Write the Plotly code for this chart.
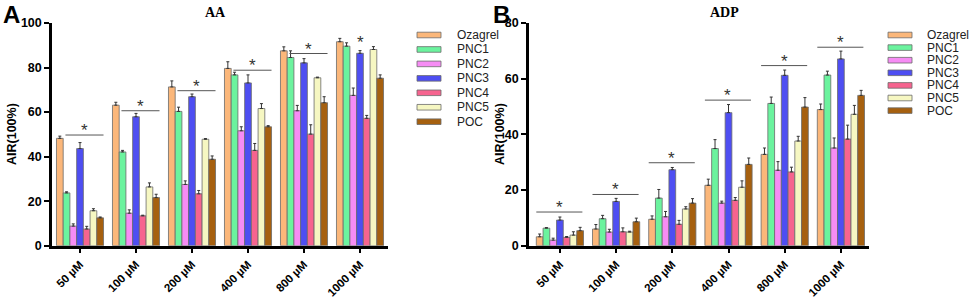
import plotly.graph_objects as go

# ---------------- data ----------------
concentrations = ["50 µM", "100 µM", "200 µM", "400 µM", "800 µM", "1000 µM"]
series = ["Ozagrel", "PNC1", "PNC2", "PNC3", "PNC4", "PNC5", "POC"]
colors = ["#FBB77A", "#6BF39E", "#F68CF4", "#4E4EF2", "#F6648F", "#F6F7C2", "#A6600F"]

# Panel A: AA
aa_ozagrel = [48.2, 63.1, 71.3, 79.6, 87.5, 91.6]
aa_pnc1 = [23.7, 42.1, 60.3, 76.7, 84.5, 89.6]
aa_pnc2 = [8.8, 14.6, 27.5, 51.6, 60.6, 67.5]
aa_pnc3 = [43.6, 57.9, 66.9, 73.1, 82.1, 86.4]
aa_pnc4 = [7.5, 13.4, 23.3, 42.8, 50.1, 57.2]
aa_pnc5 = [15.7, 26.4, 47.8, 61.6, 75.4, 88.1]
aa_poc = [12.5, 21.6, 38.8, 53.4, 64.2, 75.2]

aa_ozagrel_err = [1.0, 1.3, 2.7, 3.0, 1.8, 1.5]
aa_pnc1_err = [0.5, 0.7, 1.9, 1.2, 3.0, 1.5]
aa_pnc2_err = [1.0, 1.5, 1.6, 1.8, 2.4, 3.3]
aa_pnc3_err = [2.7, 1.5, 1.2, 3.6, 1.9, 1.2]
aa_pnc4_err = [1.2, 0.3, 1.5, 3.1, 4.2, 1.3]
aa_pnc5_err = [0.9, 1.8, 0.3, 2.2, 0.3, 1.3]
aa_poc_err = [0.4, 1.5, 1.5, 0.5, 2.7, 1.5]

aa_sig_y = [49.7, 60.6, 69.6, 78.8, 86.3, None]
aa_sig_star_only = 92.5

# Panel B: ADP
adp_ozagrel = [3.2, 6.0, 9.5, 21.7, 32.8, 48.9]
adp_pnc1 = [6.3, 9.7, 17.1, 34.9, 51.1, 61.3]
adp_pnc2 = [2.0, 4.9, 10.4, 15.3, 27.1, 35.1]
adp_pnc3 = [9.2, 15.9, 27.3, 47.8, 61.2, 67.1]
adp_pnc4 = [3.0, 5.0, 7.7, 16.3, 26.5, 38.3]
adp_pnc5 = [3.8, 4.9, 13.2, 21.0, 37.6, 47.2]
adp_poc = [5.4, 8.6, 15.3, 29.2, 49.8, 54.0]

adp_ozagrel_err = [1.0, 1.6, 1.2, 2.2, 2.3, 2.0]
adp_pnc1_err = [0.2, 1.2, 3.1, 3.2, 2.3, 1.4]
adp_pnc2_err = [0.7, 1.0, 1.9, 0.7, 3.1, 3.6]
adp_pnc3_err = [1.1, 1.1, 0.8, 2.9, 1.9, 2.8]
adp_pnc4_err = [0.3, 1.4, 1.4, 1.0, 1.7, 5.0]
adp_pnc5_err = [1.2, 0.3, 0.8, 2.3, 1.7, 3.2]
adp_poc_err = [1.2, 1.3, 1.6, 2.3, 3.4, 1.8]

adp_sig_y = [12.1, 18.4, 29.8, 52.3, 64.7, 71.3]

aa_values = [aa_ozagrel, aa_pnc1, aa_pnc2, aa_pnc3, aa_pnc4, aa_pnc5, aa_poc]
aa_errors = [aa_ozagrel_err, aa_pnc1_err, aa_pnc2_err, aa_pnc3_err, aa_pnc4_err, aa_pnc5_err, aa_poc_err]
adp_values = [adp_ozagrel, adp_pnc1, adp_pnc2, adp_pnc3, adp_pnc4, adp_pnc5, adp_poc]
adp_errors = [adp_ozagrel_err, adp_pnc1_err, adp_pnc2_err, adp_pnc3_err, adp_pnc4_err, adp_pnc5_err, adp_poc_err]

# ---------------- figure ----------------
W, H = 969, 298
SANS = "Liberation Sans, Arial, Helvetica, sans-serif"
SERIF = "Liberation Serif, Times New Roman, serif"

def px(x):
    return x / W

def py(y):
    return 1 - y / H

idx = list(range(len(concentrations)))
fig = go.Figure()

for vals_set, errs_set, xa, ya in [(aa_values, aa_errors, "x", "y"), (adp_values, adp_errors, "x2", "y2")]:
    for name, col, vals, errs in zip(series, colors, vals_set, errs_set):
        fig.add_trace(go.Bar(
            x=idx, y=vals, name=name, xaxis=xa, yaxis=ya, showlegend=False,
            marker=dict(color=col, line=dict(color="#6b6b6b", width=0.8)),
            error_y=dict(type="data", symmetric=False, array=errs,
                         arrayminus=[0] * len(errs), color="#333333",
                         thickness=1, width=1.5),
        ))

ydom = [py(245.7), py(23)]
axis_common = dict(showline=True, linewidth=2.5, linecolor="black", ticks="outside",
                   ticklen=5, tickwidth=2, tickcolor="black", showgrid=False,
                   zeroline=False, mirror=False, automargin=False)
xt = dict(tickmode="array", tickvals=idx, ticktext=concentrations, tickangle=-45,
          tickfont=dict(family=SANS, size=11.5, color="black", weight="bold"))
yt = dict(tickfont=dict(family=SANS, size=12.5, color="black", weight="bold"))

fig.update_layout(
    width=W, height=H, margin=dict(l=0, r=0, t=0, b=0, autoexpand=False),
    paper_bgcolor="white", plot_bgcolor="white",
    barmode="group", bargap=0.16, bargroupgap=0,
    xaxis=dict(domain=[px(52), px(388)], range=[-0.5, 5.5], anchor="y", **axis_common, **xt),
    yaxis=dict(domain=ydom, range=[0, 100], dtick=20, anchor="x", **axis_common, **yt),
    xaxis2=dict(domain=[px(529), px(869)], range=[-0.55, 5.5], anchor="y2", **axis_common, **xt),
    yaxis2=dict(domain=ydom, range=[0, 80], dtick=20, anchor="x2", **axis_common, **yt),
)

shapes = []
annotations = []

# significance markers
star_font = dict(family=SANS, size=17, color="#333333")
for i, yv in enumerate(aa_sig_y):
    if yv is None:
        continue
    x0, x1 = i - 0.26, i + 0.42
    shapes.append(dict(type="line", xref="x", yref="y", x0=x0, x1=x1, y0=yv, y1=yv,
                       line=dict(color="#555555", width=1)))
    annotations.append(dict(xref="x", yref="y", x=(x0 + x1) / 2, y=yv, text="*",
                            showarrow=False, xanchor="center", yanchor="bottom", yshift=-7,
                            font=star_font))
annotations.append(dict(xref="x", yref="y", x=5, y=aa_sig_star_only, text="*",
                        showarrow=False, xanchor="center", yanchor="middle", yshift=-3,
                        font=star_font))
for i, yv in enumerate(adp_sig_y):
    x0, x1 = i - 0.42, i + 0.40
    shapes.append(dict(type="line", xref="x2", yref="y2", x0=x0, x1=x1, y0=yv, y1=yv,
                       line=dict(color="#555555", width=1)))
    annotations.append(dict(xref="x2", yref="y2", x=(x0 + x1) / 2, y=yv, text="*",
                            showarrow=False, xanchor="center", yanchor="bottom", yshift=-7,
                            font=star_font))

# custom legends
for (sx0, sx1, tx, y0, dy) in [(417, 441, 455, 35, 14.45), (888, 912, 925, 35, 12.6)]:
    for k, (name, col) in enumerate(zip(series, colors)):
        yc = y0 + dy * k
        shapes.append(dict(type="rect", xref="paper", yref="paper",
                           x0=px(sx0), x1=px(sx1), y0=py(yc - 2.8), y1=py(yc + 2.8),
                           fillcolor=col, line=dict(color="#6b6b6b", width=0.8)))
        annotations.append(dict(xref="paper", yref="paper", x=px(tx), y=py(yc), text=name,
                                showarrow=False, xanchor="left", yanchor="middle",
                                font=dict(family=SANS, size=12, color="#222222")))

# titles, panel letters, axis titles
def label(x, y, text, font, angle=0):
    return dict(xref="paper", yref="paper", x=px(x), y=py(y), text=text, showarrow=False,
                xanchor="center", yanchor="middle", textangle=angle, font=font)

annotations += [
    label(215, 13, "<b>AA</b>", dict(family=SERIF, size=14, color="black")),
    label(724, 13, "<b>ADP</b>", dict(family=SERIF, size=14, color="black")),
    label(11, 14, "<b>A</b>", dict(family=SANS, size=24, color="black")),
    label(501, 14, "<b>B</b>", dict(family=SANS, size=24, color="black")),
    label(12, 134, "<b>AIR(100%)</b>", dict(family=SANS, size=12.5, color="black"), -90),
    label(500, 134, "<b>AIR(100%)</b>", dict(family=SANS, size=12.5, color="black"), -90),
]

fig.update_layout(shapes=shapes, annotations=annotations)
fig.write_html("out.html", config={"displayModeBar": False},
               post_script="document.body.style.margin='0';document.body.style.overflow='hidden';")
